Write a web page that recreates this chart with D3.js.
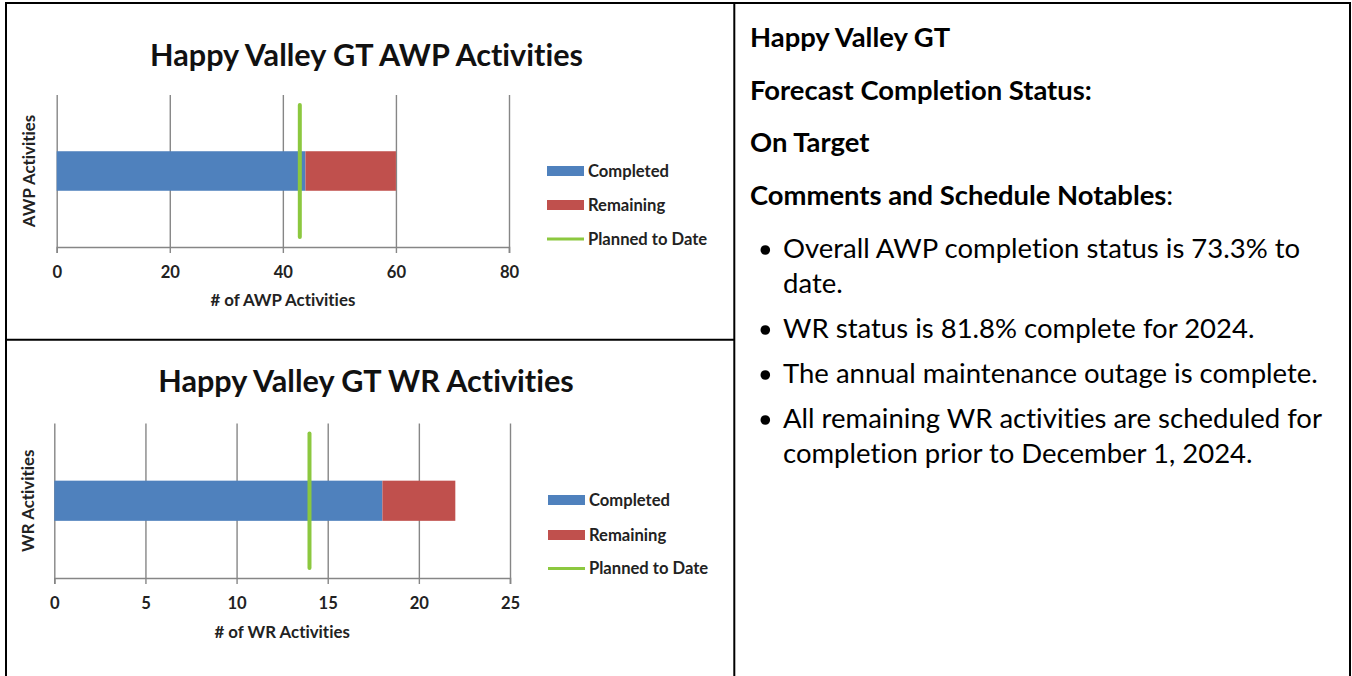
<!DOCTYPE html>
<html><head><meta charset="utf-8">
<script src="https://cdn.jsdelivr.net/npm/d3@7"></script>
<style>
html,body{margin:0;padding:0;background:#fff;}
svg{display:block;font-family:Lato,"Open Sans",sans-serif;}
text{font-variant-ligatures:none;font-feature-settings:"liga" 0,"clig" 0;}
</style>
</head><body>
<svg id="c" width="1352" height="676"></svg>
<script>
// ---------- data ----------
const awpCategory = ["AWP Activities"];
const awpCompleted = [44];
const awpRemaining = [16];
const awpPlanned = [43];
const awpTicks = [0, 20, 40, 60, 80];

const wrCategory = ["WR Activities"];
const wrCompleted = [18];
const wrRemaining = [4];
const wrPlanned = [14];
const wrTicks = [0, 5, 10, 15, 20, 25];

const seriesNames = ["Completed", "Remaining", "Planned to Date"];
const chartTitles = ["Happy Valley GT AWP Activities", "Happy Valley GT WR Activities"];
const axisTitles = ["# of AWP Activities", "# of WR Activities"];

const panelHeadings = ["Happy Valley GT", "Forecast Completion Status:", "On Target", "Comments and Schedule Notables"];
const panelBullets = [
  ["Overall AWP completion status is 73.3% to", "date."],
  ["WR status is 81.8% complete for 2024."],
  ["The annual maintenance outage is complete."],
  ["All remaining WR activities are scheduled for", "completion prior to December 1, 2024."]
];

// ---------- styles ----------
const COLORS = {Completed: "#4F81BD", Remaining: "#C0504D", Planned: "#8CC83F"};
const GRID = "#868686";
const svg = d3.select("#c");

function sizeFor(str, weight, target) {
  const t = svg.append("text").attr("font-size", 100).attr("font-weight", weight).text(str);
  const w = t.node().getComputedTextLength();
  t.remove();
  return 100 * target / w;
}
const CAP = 0.358; // half cap-height of Lato in em

const titleSize = sizeFor(chartTitles[0], 700, 433);
const legendSize = sizeFor("Completed", 700, 81);
const axisTitleSize = sizeFor(axisTitles[0], 700, 145);
const panelBoldSize = sizeFor(panelHeadings[1], 700, 342);
const panelRegSize = sizeFor(panelBullets[2][0], 400, 535);

// ---------- table borders ----------
const borders = svg.append("g").attr("stroke", "#000").attr("stroke-width", 2);
borders.append("line").attr("x1", 5).attr("x2", 1351).attr("y1", 3).attr("y2", 3);
borders.append("line").attr("x1", 6).attr("x2", 6).attr("y1", 2).attr("y2", 676);
borders.append("line").attr("x1", 1350).attr("x2", 1350).attr("y1", 2).attr("y2", 676);
borders.append("line").attr("x1", 734.3).attr("x2", 734.3).attr("y1", 2).attr("y2", 676);
borders.append("line").attr("x1", 6).attr("x2", 734.3).attr("y1", 339.7).attr("y2", 339.7);

// ---------- chart ----------
function drawChart(cfg, cat, completed, remaining, planned, ticks, title, axisTitle) {
  const g = svg.append("g");
  const x = d3.scaleLinear().domain([ticks[0], ticks[ticks.length - 1]]).range([cfg.x0, cfg.x1]);
  const y = d3.scaleBand().domain(cat).range([cfg.top, cfg.bottom]).paddingInner(0.74).paddingOuter(0.37);
  const yv = d3.scaleLinear().domain([0, 1]).range([cfg.bottom, cfg.top]);

  // title
  g.append("text").attr("x", cfg.titleX).attr("y", cfg.titleY + CAP * titleSize)
    .attr("text-anchor", "middle").attr("font-size", titleSize).attr("font-weight", 700)
    .attr("fill", "#111").text(title);

  // gridlines
  const grid = g.append("g").attr("transform", `translate(0,${cfg.bottom})`)
    .call(d3.axisBottom(x).tickValues(ticks).tickSize(-(cfg.bottom - cfg.top)).tickFormat(""));
  grid.select(".domain").remove();
  grid.selectAll(".tick line").attr("stroke", GRID).attr("stroke-width", 1.4);

  // bars (stacked)
  const rows = cat.map((c, i) => ({cat: c, Completed: completed[i], Remaining: remaining[i]}));
  const stack = d3.stack().keys(["Completed", "Remaining"])(rows);
  g.selectAll("g.series").data(stack).join("g").attr("class", "series")
    .attr("fill", d => COLORS[d.key])
    .selectAll("rect").data(d => d).join("rect")
    .attr("x", d => x(d[0])).attr("width", d => x(d[1]) - x(d[0]))
    .attr("y", d => y(d.data.cat)).attr("height", y.bandwidth());

  // axis
  const ax = g.append("g").attr("transform", `translate(0,${cfg.bottom})`)
    .call(d3.axisBottom(x).tickValues(ticks).tickSize(6).tickFormat(d3.format("d")));
  ax.select(".domain").attr("stroke", GRID).attr("stroke-width", 1.6);
  ax.selectAll(".tick line").attr("stroke", GRID).attr("stroke-width", 1.4);
  ax.selectAll(".tick text").attr("y", cfg.tickY - cfg.bottom + CAP * legendSize).attr("dy", null)
    .attr("font-size", legendSize).attr("font-weight", 700).attr("fill", "#222")
    .attr("font-family", "Lato, 'Open Sans', sans-serif");

  // planned line
  g.selectAll("line.planned").data(planned).join("line").attr("class", "planned")
    .attr("x1", d => x(d)).attr("x2", d => x(d))
    .attr("y1", yv(0.065)).attr("y2", yv(0.935))
    .attr("stroke", COLORS.Planned).attr("stroke-width", 4).attr("stroke-linecap", "round");

  // axis titles
  g.append("text").attr("x", (cfg.x0 + cfg.x1) / 2).attr("y", cfg.axisTitleY + CAP * axisTitleSize)
    .attr("text-anchor", "middle").attr("font-size", axisTitleSize).attr("font-weight", 700)
    .attr("fill", "#222").text(axisTitle);
  g.append("text")
    .attr("transform", `translate(${cfg.yTitleX + CAP * axisTitleSize},${(cfg.top + cfg.bottom) / 2}) rotate(-90)`)
    .attr("text-anchor", "middle").attr("font-size", axisTitleSize).attr("font-weight", 700)
    .attr("fill", "#222").text(cat[0]);

  // legend
  const lg = g.append("g").attr("transform", `translate(${cfg.legendX},0)`);
  seriesNames.forEach((name, i) => {
    const cy = cfg.legendY[i];
    if (i < 2) {
      lg.append("rect").attr("x", 0).attr("y", cy - 5).attr("width", 37).attr("height", 10)
        .attr("fill", COLORS[name]);
    } else {
      lg.append("line").attr("x1", 0).attr("x2", 37).attr("y1", cy).attr("y2", cy)
        .attr("stroke", COLORS.Planned).attr("stroke-width", 3);
    }
    lg.append("text").attr("x", 41).attr("y", cy + CAP * legendSize)
      .attr("font-size", legendSize).attr("font-weight", 700).attr("fill", "#222").text(name);
  });
}

drawChart({x0: 56.7, x1: 509, top: 95, bottom: 247, titleX: 366.5, titleY: 55, tickY: 272.5, axisTitleY: 300,
           yTitleX: 29, legendX: 547, legendY: [171, 205, 239]},
  awpCategory, awpCompleted, awpRemaining, awpPlanned, awpTicks, chartTitles[0], axisTitles[0]);

drawChart({x0: 54.3, x1: 510, top: 423.5, bottom: 578, titleX: 366, titleY: 381.5, tickY: 603.5, axisTitleY: 631.5,
           yTitleX: 28, legendX: 548, legendY: [500, 535, 568.5]},
  wrCategory, wrCompleted, wrRemaining, wrPlanned, wrTicks, chartTitles[1], axisTitles[1]);

// ---------- right panel ----------
const panel = svg.append("g").attr("fill", "#000");
const headingCenters = [37, 90, 142, 195];
panelHeadings.forEach((h, i) => {
  const t = panel.append("text").attr("x", 750).attr("y", headingCenters[i] + CAP * panelBoldSize)
    .attr("font-size", panelBoldSize).attr("font-weight", 700).text(h);
  if (i === 3) t.append("tspan").attr("font-weight", 400).text(":");
});
const bulletBaselines = [[257.5, 292.5], [337.5], [382.5], [427.5, 462.5]];
panelBullets.forEach((lines, i) => {
  panel.append("circle").attr("cx", 765.3).attr("cy", bulletBaselines[i][0] - 7.5).attr("r", 4.8);
  lines.forEach((ln, j) => {
    panel.append("text").attr("x", 783).attr("y", bulletBaselines[i][j])
      .attr("font-size", panelRegSize).attr("font-weight", 400).text(ln);
  });
});
</script>
</body></html>
